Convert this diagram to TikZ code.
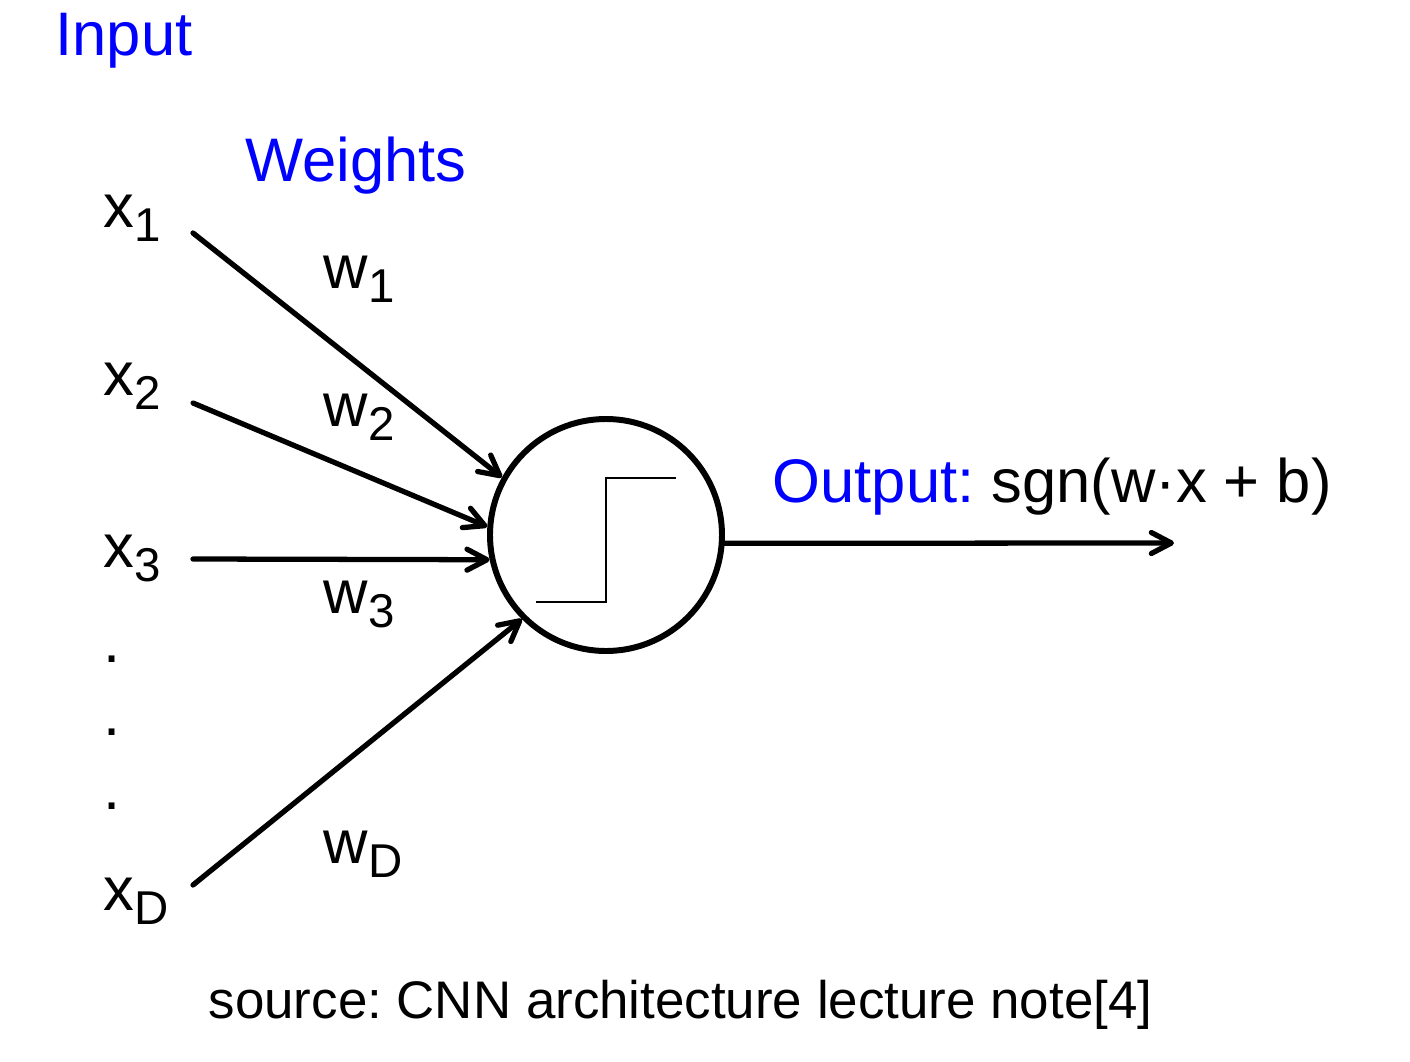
\documentclass[tikz,border=0pt]{standalone}
\usepackage{fontspec}
\setmainfont{Liberation Sans}
\usetikzlibrary{arrows.meta}
\frenchspacing
\newcommand{\lowsub}[1]{\raisebox{-0.14cm}{\fontsize{13.5}{13.5}\selectfont #1}}
\tikzset{
  lbl/.style = {inner sep = 0pt, anchor = base west, font = \fontsize{17.5}{21}\selectfont},
  wire/.style = {line width = 1.5pt, line cap = round, -{Straight Barb[length = 2mm, width = 2.1mm, round]}}
}

\begin{document}
\begin{tikzpicture}
\useasboundingbox (0,0) rectangle (14.1,-10.62);
\node[lbl, text = blue] (input) at (0.55,-0.55) {Input};
\node[lbl, text = blue] (weights) at (2.45,-1.81) {Weights};
\node[lbl] (x1) at (1.03,-2.27) {x\lowsub{1}};
\node[lbl] (x2) at (1.03,-3.95) {x\lowsub{2}};
\node[lbl] (x3) at (1.03,-5.67) {x\lowsub{3}};
\node[lbl] (xD) at (1.03,-9.10) {x\lowsub{D}};
\foreach \i/\y in {1/6.62,2/7.35,3/8.09}
  \node[lbl] (dot\i) at (1.03,-\y) {.};
\node[lbl] (w1) at (3.23,-2.88) {w\lowsub{1}};
\node[lbl] (w2) at (3.23,-4.26) {w\lowsub{2}};
\node[lbl] (w3) at (3.23,-6.13) {w\lowsub{3}};
\node[lbl] (wD) at (3.23,-8.63) {w\lowsub{D}};
\node[draw, circle, line width = 1.7pt, minimum size = 2.32cm, inner sep = 0pt] (neuron) at (6.06,-5.35) {};
\draw[line width = 0.7pt] ([shift = {(-0.70,-0.67)}]neuron.center) -- ++(0.70,0) -- ++(0,1.24) -- ++(0.70,0);
\coordinate (s1) at (1.93,-2.33);
\coordinate (s2) at (1.93,-4.03);
\coordinate (s3) at (1.93,-5.59);
\coordinate (sD) at (1.93,-8.85);
\draw[wire] (s1) -- (neuron.151);
\draw[wire] (s2) -- (neuron.176);
\draw[wire] (s3) -- (neuron.192);
\draw[wire] (sD) -- (neuron.225);
\coordinate (out) at (11.74,-5.43);
\draw[wire] (neuron.-4) -- (out);
\node[lbl] (output) at (7.72,-5.02) {{\color{blue}Output:} sgn(w·x + b)};
\node[lbl, font = \fontsize{15.05}{18}\selectfont] (source) at (2.08,-10.18) {source: CNN architecture lecture note[4]};
\end{tikzpicture}
\end{document}
